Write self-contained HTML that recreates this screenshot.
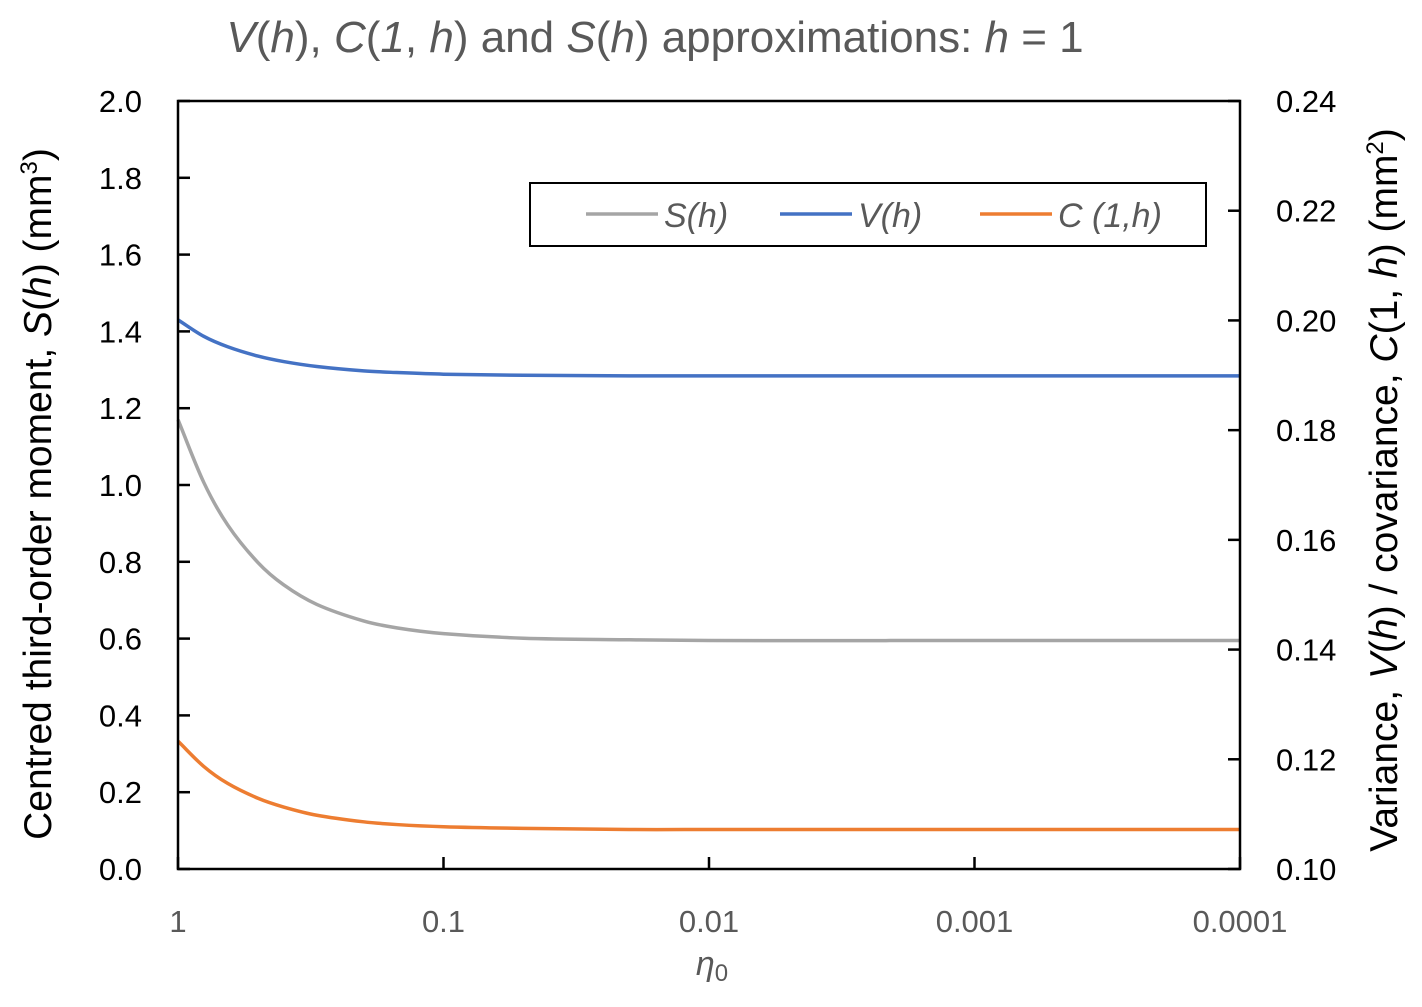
<!DOCTYPE html>
<html><head><meta charset="utf-8"><style>
html,body{margin:0;padding:0;background:#fff;}
svg text{font-family:"Liberation Sans",sans-serif;}
</style></head><body>
<svg id="chart" width="1422" height="1002" viewBox="0 0 1422 1002" xmlns="http://www.w3.org/2000/svg">
<text x="655" y="52" font-size="44" fill="#595959" text-anchor="middle"><tspan font-style="italic">V</tspan>(<tspan font-style="italic">h</tspan>), <tspan font-style="italic">C</tspan>(<tspan font-style="italic">1</tspan>, <tspan font-style="italic">h</tspan>) and <tspan font-style="italic">S</tspan>(<tspan font-style="italic">h</tspan>) approximations: <tspan font-style="italic">h</tspan> = 1</text>
<g id="series"></g>
<rect x="178" y="101" width="1062" height="768" fill="none" stroke="#000" stroke-width="2.5"/>
<g id="axes"></g>
<text transform="translate(51,494) rotate(-90)" font-size="39" fill="#000" text-anchor="middle">Centred third-order moment, <tspan font-style="italic">S</tspan>(<tspan font-style="italic">h</tspan>) (mm<tspan font-size="24" dy="-14">3</tspan><tspan dy="14">)</tspan></text>
<text transform="translate(1397,490) rotate(-90)" font-size="39" fill="#000" text-anchor="middle">Variance, <tspan font-style="italic">V</tspan>(<tspan font-style="italic">h</tspan>) / covariance, <tspan font-style="italic">C</tspan>(1, <tspan font-style="italic">h</tspan>) (mm<tspan font-size="24" dy="-14">2</tspan><tspan dy="14">)</tspan></text>
<text x="712" y="975" font-size="34" fill="#595959" text-anchor="middle" font-style="italic">η<tspan font-size="24" dy="6" font-style="normal">0</tspan></text>
<g>
<rect x="530" y="183" width="676" height="63" fill="#fff" stroke="#000" stroke-width="2"/>
<line x1="586" y1="214" x2="658" y2="214" stroke="#a5a5a5" stroke-width="3.5"/>
<text x="664" y="227" font-size="34" fill="#595959" font-style="italic">S(h)</text>
<line x1="780" y1="214" x2="852" y2="214" stroke="#4472c4" stroke-width="3.5"/>
<text x="858" y="227" font-size="34" fill="#595959" font-style="italic">V(h)</text>
<line x1="980" y1="214" x2="1052" y2="214" stroke="#ed7d31" stroke-width="3.5"/>
<text x="1058" y="227" font-size="34" fill="#595959" font-style="italic">C (1,h)</text>
</g>
</svg>
<script>
const etaValues = [1, 0.8, 0.65, 0.5, 0.4, 0.3, 0.2, 0.15, 0.1, 0.05, 0.02, 0.01, 0.001, 0.0001];
const sValues = [1.17, 1.007, 0.896, 0.798, 0.740, 0.689, 0.646, 0.628, 0.613, 0.601, 0.597, 0.595, 0.595, 0.595];
const vValues = [0.2001, 0.1971, 0.1952, 0.1935, 0.1925, 0.1916, 0.1908, 0.1905, 0.1902, 0.1900, 0.1899, 0.1899, 0.1899, 0.1899];
const cValues = [0.1233, 0.1187, 0.1156, 0.1129, 0.1113, 0.1098, 0.1086, 0.1081, 0.1077, 0.1074, 0.1072, 0.1072, 0.1072, 0.1072];
const leftTicks = ["0.0","0.2","0.4","0.6","0.8","1.0","1.2","1.4","1.6","1.8","2.0"];
const rightTicks = ["0.10","0.12","0.14","0.16","0.18","0.20","0.22","0.24"];
const xTicks = ["1","0.1","0.01","0.001","0.0001"];

const L=178,R=1240,T=101,B=869;
const NS="http://www.w3.org/2000/svg";
function xs(e){return L+(-Math.log10(e))/4*(R-L);}
function yl(v){return B-(v/2)*(B-T);}
function yr(v){return B-((v-0.10)/0.14)*(B-T);}
function mk(tag,attrs,parent){const el=document.createElementNS(NS,tag);for(const k in attrs)el.setAttribute(k,attrs[k]);parent.appendChild(el);return el;}
const axes=document.getElementById('axes');
leftTicks.forEach(t=>{const y=yl(parseFloat(t));
 const ln=mk('line',{x1:L,x2:L+12,y1:y,y2:y,stroke:'#000','stroke-width':2.5},axes);
 
 
 const tx=mk('text',{x:142,y:y+11,'font-size':31,'text-anchor':'end',fill:'#000'},axes);tx.textContent=t;
 
 });
rightTicks.forEach(t=>{const y=yr(parseFloat(t));
 const ln=mk('line',{x1:R-12,x2:R,y1:y,y2:y,stroke:'#000','stroke-width':2.5},axes);
 
 
 const tx=mk('text',{x:1276,y:y+11,'font-size':31,fill:'#000'},axes);tx.textContent=t;
 
 });
xTicks.forEach(t=>{const x=xs(parseFloat(t));
 const ln=mk('line',{x1:x,x2:x,y1:B-12,y2:B,stroke:'#000','stroke-width':2.5},axes);
 
 
 const tx=mk('text',{x:x,y:932,'font-size':31,'text-anchor':'middle',fill:'#595959'},axes);tx.textContent=t;
 
 });
function path(vals,yf){
 const p=etaValues.map((e,i)=>[xs(e),yf(vals[i])]);
 let d='M'+p[0][0]+','+p[0][1];
 for(let i=0;i<p.length-1;i++){
  const p0=p[Math.max(0,i-1)],p1=p[i],p2=p[i+1],p3=p[Math.min(p.length-1,i+2)];
  const h=p2[0]-p1[0];
  const m1=(p2[1]-p0[1])/(p2[0]-p0[0]||1), m2=(p3[1]-p1[1])/(p3[0]-p1[0]||1);
  const c1=[p1[0]+h/3,p1[1]+m1*h/3];
  const c2=[p2[0]-h/3,p2[1]-m2*h/3];
  d+=' C'+c1+' '+c2+' '+p2;
 }
 return d;
}
const sg=document.getElementById('series');
const ps=mk('path',{d:path(sValues,yl),fill:'none',stroke:'#a5a5a5','stroke-width':3.5},sg);


const pv=mk('path',{d:path(vValues,yr),fill:'none',stroke:'#4472c4','stroke-width':3.5},sg);


const pc=mk('path',{d:path(cValues,yr),fill:'none',stroke:'#ed7d31','stroke-width':3.5},sg);


</script>
</body></html>
